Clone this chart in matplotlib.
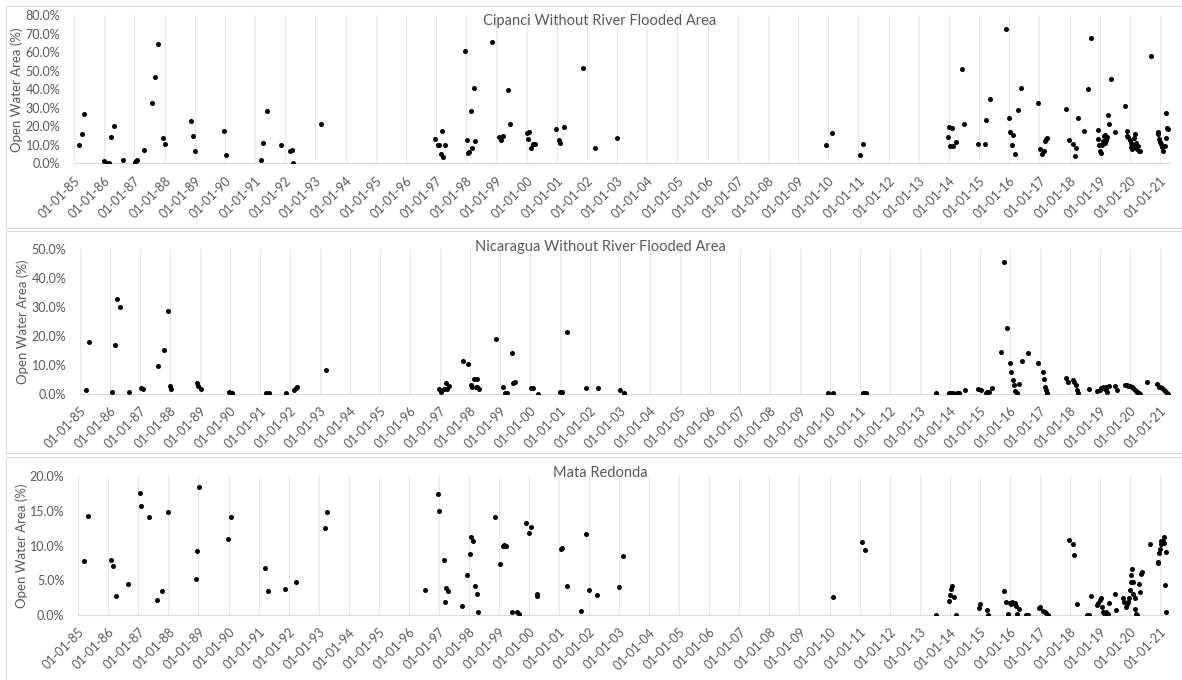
import matplotlib
matplotlib.use("Agg")
import matplotlib.pyplot as plt
from matplotlib.patches import Rectangle
from matplotlib.ticker import FuncFormatter, FixedLocator

# =============================================================================
# DATA  (decimal year of the scene, open water area in %)
# =============================================================================
CIP_T = [1985.18, 1985.27, 1985.32, 1986.00, 1986.06, 1986.15, 1986.24, 1986.33, 1986.64,
         1987.01, 1987.04, 1987.08, 1987.33, 1987.60, 1987.67, 1987.77, 1987.96, 1988.00,
         1988.89, 1988.93, 1989.02, 1989.96, 1990.05, 1991.19, 1991.28, 1991.41, 1991.86,
         1992.15, 1992.23, 1992.27, 1993.19,
         1996.98, 1997.06, 1997.11, 1997.20, 1997.15, 1997.23, 1997.30, 1997.95, 1998.02,
         1998.07, 1998.10, 1998.16, 1998.20, 1998.25, 1998.29, 1998.87, 1999.08, 1999.17,
         1999.22, 1999.39, 1999.44, 2000.01, 2000.07, 2000.05, 2000.14, 2000.23, 2000.27,
         2000.97, 2001.08, 2001.11, 2001.25, 2001.86, 2002.27, 2003.01,
         2009.94, 2010.11, 2011.07, 2011.17,
         2013.98, 2014.01, 2014.10, 2014.04, 2014.14, 2014.24, 2014.45, 2014.51, 2014.98,
         2015.20, 2015.24, 2015.37, 2015.90, 2015.99, 2016.03, 2016.12, 2016.08, 2016.18,
         2016.30, 2016.39, 2016.95, 2017.01, 2017.08, 2017.14, 2017.17, 2017.22, 2017.26,
         2017.87, 2017.97, 2018.10, 2018.19, 2018.23, 2018.27, 2018.49, 2018.62, 2018.71,
         2018.93, 2018.95, 2018.99, 2019.02, 2019.03, 2019.06, 2019.10, 2019.13, 2019.16,
         2019.19, 2019.21, 2019.25, 2019.28, 2019.31, 2019.38, 2019.50,
         2019.84, 2019.89, 2019.90, 2019.95, 2019.99, 2020.03, 2020.05, 2020.07, 2020.11,
         2020.14, 2020.16, 2020.18, 2020.21, 2020.23, 2020.26, 2020.29, 2020.34, 2020.71,
         2020.92, 2020.94, 2020.96, 2021.00, 2021.04, 2021.07, 2021.10, 2021.14, 2021.17,
         2021.20, 2021.23, 2021.25, 2021.21]
CIP_V = [9.9, 15.9, 26.5, 1.3, 0.4, 0.2, 14.4, 20.2, 1.6,
         0.5, 1.1, 1.6, 7.4, 32.4, 46.7, 64.5, 13.9, 10.6,
         22.9, 14.8, 6.7, 17.5, 4.5, 1.6, 11.2, 28.3, 10.1,
         6.7, 7.4, 0.2, 21.3,
         13.2, 9.9, 9.9, 17.7, 5.2, 3.6, 9.9, 60.9, 12.6,
         5.4, 6.3, 28.1, 8.5, 40.7, 11.9, 65.6, 14.4, 12.4,
         14.8, 39.6, 21.1, 16.2, 16.9, 13.3, 8.1, 10.3, 10.6,
         18.7, 12.6, 11.2, 19.5, 51.5, 8.3, 13.7,
         9.9, 16.4, 4.5, 10.6,
         14.2, 19.8, 18.9, 9.5, 9.5, 11.5, 51.2, 21.3, 10.5,
         10.6, 23.2, 34.8, 72.8, 24.7, 16.8, 15.5, 9.7, 4.9,
         29.0, 40.5, 32.6, 7.7, 5.0, 6.8, 12.3, 13.2, 13.9,
         29.4, 12.6, 10.6, 3.8, 8.5, 24.5, 17.7, 40.4, 67.6,
         17.8, 13.0, 9.7, 6.8, 5.8, 10.1, 11.9, 14.8, 10.8,
         15.5, 12.6, 14.1, 26.1, 21.4, 45.8, 17.1,
         31.2, 17.7, 14.8, 14.1, 12.6, 11.2, 9.0, 7.6, 9.7,
         13.7, 9.0, 15.9, 10.8, 7.6, 9.5, 6.8, 6.8, 58.2,
         16.8, 15.7, 13.0, 11.7, 10.5, 9.0, 6.8, 9.4, 9.5,
         13.9, 19.1, 18.4, 27.0]

NIC_T = [1985.19, 1985.28, 1986.07, 1986.16, 1986.23, 1986.33, 1986.64, 1987.02, 1987.08,
         1987.60, 1987.78, 1987.93, 1987.98, 1988.02, 1988.89, 1988.94, 1989.02, 1989.97,
         1990.06, 1991.19, 1991.29, 1991.86, 1992.14, 1992.19, 1992.23, 1993.19,
         1996.96, 1997.01, 1997.14, 1997.19, 1997.23, 1997.28, 1997.77, 1997.93, 1998.01,
         1998.07, 1998.14, 1998.18, 1998.22, 1998.24, 1998.29, 1998.86, 1999.08, 1999.16,
         1999.21, 1999.38, 1999.43, 1999.48, 2000.03, 2000.08, 2000.26, 2000.99, 2001.07,
         2001.23, 2001.87, 2002.26, 2002.99, 2003.13,
         2009.94, 2010.11, 2011.08, 2011.13, 2011.19,
         2013.53, 2013.97, 2014.02, 2014.09, 2014.16, 2014.23, 2014.30, 2014.51, 2014.93,
         2015.02, 2015.19, 2015.24, 2015.31, 2015.38, 2015.68, 2015.81, 2015.90, 2015.98,
         2016.03, 2016.08, 2016.12, 2016.17, 2016.23, 2016.29, 2016.39, 2016.60, 2016.94,
         2017.08, 2017.12, 2017.17, 2017.21, 2017.24, 2017.87, 2017.94, 2018.08, 2018.13,
         2018.19, 2018.23, 2018.27, 2018.62, 2018.91, 2018.98, 2019.03, 2019.09, 2019.14,
         2019.18, 2019.20, 2019.24, 2019.29, 2019.50, 2019.56, 2019.82, 2019.89, 2019.94,
         2020.00, 2020.06, 2020.11, 2020.16, 2020.20, 2020.24, 2020.30, 2020.34, 2020.56,
         2020.91, 2020.96, 2021.01, 2021.07, 2021.12, 2021.17, 2021.22, 2021.26]
NIC_V = [1.4, 17.9, 0.5, 16.9, 32.7, 30.1, 0.6, 2.0, 1.6,
         9.7, 15.2, 28.6, 2.5, 1.5, 3.8, 2.8, 1.5, 0.7,
         0.3, 0.1, 0.1, 0.2, 1.2, 1.8, 2.2, 8.3,
         1.6, 0.6, 1.6, 3.6, 1.5, 2.8, 11.4, 10.1, 2.9,
         2.3, 5.2, 2.3, 5.0, 2.2, 1.7, 18.9, 2.4, 0.3,
         0.1, 13.9, 3.8, 3.9, 2.1, 1.8, 0.0, 0.7, 0.6,
         21.2, 2.1, 1.8, 1.4, 0.1,
         0.3, 0.3, 0.2, 0.2, 0.3,
         0.1, 0.3, 0.2, 0.1, 0.0, 0.1, 0.1, 1.4, 1.7,
         1.2, 0.2, 0.6, 0.7, 2.1, 14.4, 45.6, 22.8, 10.6,
         7.4, 4.6, 2.9, 0.8, 0.3, 3.5, 11.4, 14.1, 10.7,
         7.4, 5.0, 2.4, 1.3, 0.3, 5.5, 4.0, 4.7, 4.1,
         3.0, 1.3, 0.2, 1.6, 0.8, 1.2, 1.8, 2.4, 1.8,
         1.2, 2.3, 0.6, 2.5, 2.8, 1.4, 3.0, 2.9, 2.8,
         2.5, 2.2, 1.8, 1.4, 0.9, 0.7, 0.3, 0.0, 3.9,
         3.2, 2.4, 2.4, 1.8, 1.4, 0.9, 0.3, 0.0]

MAT_T = [1985.20, 1985.33, 1986.08, 1986.17, 1986.26, 1986.66, 1987.04, 1987.09, 1987.36,
         1987.62, 1987.79, 1988.00, 1988.91, 1988.96, 1989.03, 1989.99, 1990.08, 1991.21,
         1991.30, 1991.87, 1992.24, 1993.21, 1993.26,
         1996.54, 1996.98, 1997.02, 1997.16, 1997.24, 1997.29, 1997.20, 1997.77, 1997.94,
         1998.02, 1998.07, 1998.12, 1998.21, 1998.26, 1998.29, 1998.87, 1999.04, 1999.12,
         1999.18, 1999.22, 1999.43, 1999.60, 1999.67, 1999.89, 2000.01, 2000.08, 2000.26,
         2000.28, 2001.08, 2001.10, 2001.26, 2001.74, 2001.88, 2002.00, 2002.27, 2003.01,
         2003.14,
         2010.10, 2011.07, 2011.17,
         2013.53, 2013.96, 2014.00, 2014.04, 2014.08, 2014.14, 2014.22, 2014.97, 2015.01,
         2015.23, 2015.28, 2015.81, 2015.86, 2015.93, 2015.99, 2016.03, 2016.08, 2016.12,
         2016.17, 2016.20, 2016.24, 2016.29, 2016.53, 2016.60, 2016.98, 2017.02, 2017.09,
         2017.16, 2017.20, 2017.27, 2017.96, 2018.09, 2018.13, 2018.22, 2018.56, 2018.62,
         2018.70, 2018.90, 2018.94, 2018.99, 2019.03, 2019.07, 2019.10, 2019.13, 2019.17,
         2019.21, 2019.26, 2019.30, 2019.49, 2019.53, 2019.76, 2019.79, 2019.87, 2019.90,
         2019.93, 2019.97, 2020.00, 2020.03, 2020.02, 2020.07, 2020.09, 2020.11, 2020.16,
         2020.18, 2020.20, 2020.24, 2020.29, 2020.33, 2020.38, 2020.41, 2020.67, 2020.93,
         2020.94, 2020.98, 2021.00, 2021.02, 2021.04, 2021.09, 2021.12, 2021.14, 2021.18,
         2021.21, 2021.20]
MAT_V = [7.8, 14.3, 7.9, 7.1, 2.8, 4.5, 17.6, 15.7, 14.2,
         2.1, 3.5, 14.8, 5.2, 9.3, 18.4, 11.0, 14.2, 6.8,
         3.4, 3.8, 4.8, 12.6, 14.9,
         3.6, 17.5, 15.0, 7.9, 3.9, 3.4, 1.9, 1.3, 5.8,
         8.8, 11.2, 10.7, 4.2, 3.1, 0.4, 14.1, 7.4, 10.0,
         10.1, 9.9, 0.4, 0.4, 0.2, 13.2, 11.8, 12.7, 2.8,
         3.0, 9.5, 9.7, 4.2, 0.6, 11.7, 3.6, 2.9, 4.0,
         8.5,
         2.6, 10.5, 9.4,
         0.0, 2.0, 2.9, 3.7, 4.2, 2.6, 0.0, 1.0, 1.6,
         0.7, 0.0, 3.5, 1.9, 0.1, 1.8, 1.6, 1.9, 1.7,
         1.8, 1.3, 0.1, 0.8, 0.0, 0.0, 1.0, 1.2, 0.6,
         0.5, 0.3, 0.0, 10.8, 10.3, 8.6, 1.6, 0.0, 0.0,
         2.8, 1.5, 1.8, 2.1, 2.4, 1.1, 0.5, 0.3, 0.1,
         0.5, 0.2, 1.8, 3.1, 0.7, 2.4, 1.9, 1.2, 1.6,
         1.9, 2.4, 3.6, 4.8, 5.8, 6.6, 4.8, 3.1, 2.4,
         0.8, 0.2, 0.0, 4.5, 3.3, 5.9, 6.2, 10.3, 7.5,
         7.7, 8.9, 9.5, 10.3, 10.7, 10.6, 11.2, 10.4, 4.3,
         9.1, 0.5]

TITLES = ["Cipanci Without River Flooded Area",
          "Nicaragua Without River Flooded Area",
          "Mata Redonda"]
YMAX   = [80, 50, 20]
YSTEP  = [10, 10, 5]
YEARS  = list(range(1985, 2022))
YLABEL = "Open Water Area (%)"

# =============================================================================
# LAYOUT  (pixel boxes of each chart frame and plot area)
# =============================================================================
W, H = 1182, 680
FRAMES = [(6, 6, 1200, 228), (6, 231, 1200, 453), (6, 457, 1200, 700)]
PLOTS  = [(74.0, 15.3, 1170, 163.3), (80.3, 249.0, 1170, 393.7), (78.3, 476.3, 1170, 615.0)]
TITLE_Y = [21, 247, 473]
YLABEL_X = [17, 23, 22]

FRAME = "#d9d9d9"
GRID = "#e6e6e6"
TEXT = "#595959"
FONT = ["Lato", "DejaVu Sans"]

plt.rcParams["font.family"] = FONT

fig = plt.figure(figsize=(W / 100, H / 100), dpi=100)

for x0, y0, x1, y1 in FRAMES:
    fig.patches.append(Rectangle((x0 / W, 1 - y1 / H), (x1 - x0) / W, (y1 - y0) / H,
                                 transform=fig.transFigure, fill=False,
                                 edgecolor=FRAME, linewidth=0.8))

series = [(CIP_T, CIP_V), (NIC_T, NIC_V), (MAT_T, MAT_V)]

for i, (t, v) in enumerate(series):
    l, top, r, bot = PLOTS[i]
    ax = fig.add_axes([l / W, 1 - bot / H, (r - l) / W, (bot - top) / H])
    ax.scatter(t, v, s=13, color="black", zorder=3, linewidths=0)

    ax.set_xlim(1985, 2021.33)
    ax.set_ylim(0, YMAX[i])
    ax.xaxis.set_major_locator(FixedLocator(YEARS))
    ax.set_xticklabels([f"01-01-{y % 100:02d}" for y in YEARS],
                       rotation=45, ha="right", rotation_mode="anchor")
    ax.set_yticks(range(0, YMAX[i] + 1, YSTEP[i]))
    ax.yaxis.set_major_formatter(FuncFormatter(lambda y, _: f"{y:.1f}%"))

    ax.grid(axis="x", color=GRID, linewidth=0.8)
    ax.set_axisbelow(True)
    for side in ["top", "right", "left"]:
        ax.spines[side].set_visible(False)
    ax.spines["bottom"].set_color(FRAME)
    ax.tick_params(axis="both", length=0, labelsize=9, labelcolor=TEXT)
    ax.tick_params(axis="x", pad=8)
    ax.tick_params(axis="y", pad=10)

    ax.set_ylabel(YLABEL, fontsize=9.5, color=TEXT, va="center")
    ax.yaxis.set_label_coords((YLABEL_X[i] - l) / (r - l), 0.5)

    fig.text(600 / W, 1 - TITLE_Y[i] / H, TITLES[i], ha="center", va="center",
             fontsize=10.5, color=TEXT)

fig.savefig("out.png", dpi=100)
